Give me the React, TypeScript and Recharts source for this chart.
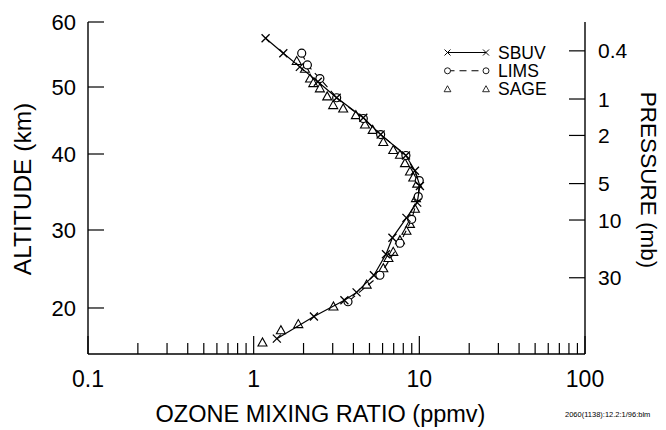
import React from "react";
import { ScatterChart, Scatter, XAxis, YAxis, Legend } from "recharts";

// ozone mixing ratio (ppmv) against altitude (km)
const SBUV_PPMV = [1.18, 1.51, 1.9, 2.44, 3.17, 4.59, 5.84, 8.3, 9.41, 10.08, 9.71, 8.36, 6.88, 6.29, 5.32, 4.18, 3.53, 2.31, 1.38];
const SBUV_KM = [57.5, 55.2, 53.1, 50.8, 48.4, 45.4, 42.9, 39.8, 37.8, 35.8, 33.6, 31.6, 29.0, 26.9, 24.2, 22.0, 21.0, 18.9, 16.0];

const LIMS_PPMV = [1.95, 2.11, 2.51, 3.17, 4.59, 5.84, 8.3, 9.99, 9.85, 8.99, 7.64, 5.78, 3.71];
const LIMS_KM = [55.2, 53.4, 51.3, 48.4, 45.3, 42.9, 39.8, 36.5, 34.4, 31.4, 28.3, 24.2, 20.8];

const SAGE_PPMV = [
  1.82, 2.04, 2.19, 2.29, 2.51, 2.78, 3.02, 3.47, 4.14, 4.7, 5.23, 6.06, 6.96, 7.64, 8.19, 8.78,
  9.19, 9.71, 9.54, 9.41, 8.78, 8.36, 7.64, 6.96, 6.51, 6.06, 4.81, 3.03, 1.86, 1.46, 1.13,
];
const SAGE_KM = [
  54.0, 52.8, 51.3, 50.6, 49.8, 48.6, 47.3, 46.8, 45.8, 44.4, 43.6, 41.8, 40.6, 39.9, 38.8, 37.7,
  36.9, 36.1, 34.2, 32.8, 30.8, 29.9, 28.7, 27.2, 26.4, 25.1, 23.0, 20.2, 17.9, 17.1, 15.5,
];

const X_MAJOR = [0.1, 1, 10, 100];
const X_TICKS = [
  0.1, 0.2, 0.3, 0.4, 0.5, 0.6, 0.7, 0.8, 0.9,
  1, 2, 3, 4, 5, 6, 7, 8, 9,
  10, 20, 30, 40, 50, 60, 70, 80, 90, 100,
];
const ALT_TICKS = [20, 30, 40, 50, 60];
const P_TICKS = [0.4, 1, 2, 5, 10, 30];

// altitude axis is not linear in the original (it follows log pressure),
// so the km scale is piecewise-linear between these knots
const ALT_KNOTS = [14, 20, 30, 40, 50, 60];
const ALT_STOPS = [0, 0.1386, 0.3735, 0.6024, 0.8042, 1];

const FONT = "'Liberation Sans', Arial, Helvetica, sans-serif";

const zip = (xs: number[], ys: number[]) => xs.map((v, i) => ({ ppmv: v, km: ys[i] }));
const sbuv = zip(SBUV_PPMV, SBUV_KM);
const lims = zip(LIMS_PPMV, LIMS_KM);
const sage = zip(SAGE_PPMV, SAGE_KM);

function altitudeScale(): any {
  let dom = [ALT_KNOTS[0], ALT_KNOTS[ALT_KNOTS.length - 1]];
  let rng = [1, 0];
  const frac = (v: number) => {
    const n = ALT_KNOTS.length;
    for (let i = 1; i < n; i++) {
      if (v <= ALT_KNOTS[i] || i === n - 1) {
        const t = (v - ALT_KNOTS[i - 1]) / (ALT_KNOTS[i] - ALT_KNOTS[i - 1]);
        return ALT_STOPS[i - 1] + t * (ALT_STOPS[i] - ALT_STOPS[i - 1]);
      }
    }
    return 1;
  };
  const unfrac = (f: number) => {
    const n = ALT_STOPS.length;
    for (let i = 1; i < n; i++) {
      if (f <= ALT_STOPS[i] || i === n - 1) {
        const t = (f - ALT_STOPS[i - 1]) / (ALT_STOPS[i] - ALT_STOPS[i - 1]);
        return ALT_KNOTS[i - 1] + t * (ALT_KNOTS[i] - ALT_KNOTS[i - 1]);
      }
    }
    return ALT_KNOTS[n - 1];
  };
  const s: any = (v: number) => rng[0] + frac(Number(v)) * (rng[1] - rng[0]);
  s.domain = (d?: number[]) => {
    if (d === undefined) return dom.slice();
    dom = d.slice();
    return s;
  };
  s.range = (r?: number[]) => {
    if (r === undefined) return rng.slice();
    rng = r.slice();
    return s;
  };
  s.invert = (px: number) => unfrac((px - rng[0]) / (rng[1] - rng[0]));
  s.ticks = () => ALT_TICKS.slice();
  s.tickFormat = () => (v: number) => String(v);
  s.nice = () => s;
  s.clamp = () => s;
  s.copy = () => altitudeScale().domain(dom).range(rng);
  return s;
}

const XMark = ({ cx, cy }: any) => (
  <path d={`M${cx - 4},${cy - 4}L${cx + 4},${cy + 4}M${cx - 4},${cy + 4}L${cx + 4},${cy - 4}`} stroke="#000" strokeWidth={1.3} fill="none" />
);
const Circle = ({ cx, cy }: any) => <circle cx={cx} cy={cy} r={4} fill="#fff" stroke="#000" strokeWidth={1.2} />;
const Tri = ({ cx, cy }: any) => (
  <path d={`M${cx},${cy - 4.5}L${cx - 4.5},${cy + 3.5}L${cx + 4.5},${cy + 3.5}Z`} fill="#fff" stroke="#000" strokeWidth={1.1} />
);

const bottomTick = ({ x, y, payload }: any) => {
  const major = X_MAJOR.includes(payload.value);
  return (
    <g>
      <line x1={x} y1={y} x2={x} y2={y - (major ? 18 : 11)} stroke="#000" strokeWidth={1.2} />
      {major && (
        <text x={x} y={y + 33} textAnchor="middle" fontSize={23} fontFamily={FONT} fill="#000">
          {payload.value}
        </text>
      )}
    </g>
  );
};

const topTick = ({ x, y, payload }: any) => {
  const major = X_MAJOR.includes(payload.value);
  return <line x1={x} y1={y} x2={x} y2={y + (major ? 18 : 11)} stroke="#000" strokeWidth={1.2} />;
};

const leftTick = ({ x, y, payload }: any) => (
  <g>
    <line x1={x} y1={y} x2={x + 16} y2={y} stroke="#000" strokeWidth={1.2} />
    <text x={x - 12} y={y} dy="0.36em" textAnchor="end" fontSize={22} fontFamily={FONT} fill="#000">
      {payload.value}
    </text>
  </g>
);

const rightTick = ({ x, y, payload }: any) => (
  <g>
    <line x1={x} y1={y} x2={x - 16} y2={y} stroke="#000" strokeWidth={1.2} />
    <text x={x + 13} y={y} dy="0.36em" textAnchor="start" fontSize={21} fontFamily={FONT} fill="#000">
      {payload.value}
    </text>
  </g>
);

const bottomTitle = ({ viewBox }: any) => {
  const { x, y, width } = viewBox;
  return (
    <g>
      <text x={x + width / 2 - 16} y={y + 68} textAnchor="middle" fontSize={23.5} fontFamily={FONT} fill="#000">
        OZONE MIXING RATIO (ppmv)
      </text>
      <text x={x + 477} y={y + 63} textAnchor="start" fontSize={7.5} fontFamily={FONT} fill="#000">
        2060(1138):12.2:1/96:blm
      </text>
    </g>
  );
};

const leftTitle = ({ viewBox }: any) => {
  const { x, y, height } = viewBox;
  const cx = x + 14.5;
  const cy = y + height / 2 + 1;
  return (
    <text x={cx} y={cy} dy="0.36em" transform={`rotate(-90 ${cx} ${cy})`} textAnchor="middle" fontSize={24.5} fontFamily={FONT} fill="#000">
      ALTITUDE (km)
    </text>
  );
};

const rightTitle = ({ viewBox }: any) => {
  const { x, y, height } = viewBox;
  const cx = x + 64;
  const cy = y + height / 2 - 8;
  return (
    <text x={cx} y={cy} dy="0.36em" transform={`rotate(90 ${cx} ${cy})`} textAnchor="middle" fontSize={22.5} fontFamily={FONT} fill="#000">
      PRESSURE (mb)
    </text>
  );
};

const LEGEND_ROWS = [
  { name: "SBUV", mark: XMark, dash: "none" },
  { name: "LIMS", mark: Circle, dash: "7 5" },
  { name: "SAGE", mark: Tri, dash: "" },
];

const renderLegend = () => (
  <svg width={130} height={62} style={{ display: "block" }}>
    {LEGEND_ROWS.map((r, i) => {
      const y = 10.5 + i * 18.3;
      const M = r.mark;
      return (
        <g key={r.name}>
          {r.dash !== "" && (
            <line x1={9.5} y1={y} x2={48} y2={y} stroke="#000" strokeWidth={1.1} strokeDasharray={r.dash === "none" ? undefined : r.dash} />
          )}
          <g transform={`translate(${9.5},${y}) scale(0.75) translate(${-9.5},${-y})`}>
            <M cx={9.5} cy={y} />
          </g>
          <g transform={`translate(${48},${y}) scale(0.75) translate(${-48},${-y})`}>
            <M cx={48} cy={y} />
          </g>
          <text x={60} y={y} dy="0.36em" fontSize={17.5} fontFamily={FONT} fill="#000">
            {r.name}
          </text>
        </g>
      );
    })}
  </svg>
);

export default function App() {
  const axisLine = { stroke: "#000", strokeWidth: 1.4 };
  return (
    <ScatterChart width={658} height={422} margin={{ top: 14, right: 0, bottom: 0, left: 0 }}>
      <XAxis
        xAxisId="x"
        type="number"
        dataKey="ppmv"
        scale="log"
        domain={[0.1, 100]}
        allowDataOverflow
        ticks={X_TICKS}
        interval={0}
        tickSize={0}
        tickMargin={0}
        tick={bottomTick}
        axisLine={axisLine}
        height={76}
        label={bottomTitle}
      />
      <XAxis
        xAxisId="xt"
        orientation="top"
        type="number"
        scale="log"
        domain={[0.1, 100]}
        allowDataOverflow
        ticks={X_TICKS}
        interval={0}
        tickSize={0}
        tickMargin={0}
        tick={topTick}
        axisLine={axisLine}
        height={0}
      />
      <YAxis
        yAxisId="alt"
        type="number"
        dataKey="km"
        scale={altitudeScale()}
        domain={[14, 60]}
        allowDataOverflow
        ticks={ALT_TICKS}
        interval={0}
        tickSize={0}
        tickMargin={0}
        tick={leftTick}
        axisLine={axisLine}
        width={80}
        label={leftTitle}
      />
      <YAxis
        yAxisId="p"
        orientation="right"
        type="number"
        scale="log"
        domain={[0.231, 128]}
        reversed
        allowDataOverflow
        ticks={P_TICKS}
        interval={0}
        tickSize={0}
        tickMargin={0}
        tick={rightTick}
        axisLine={axisLine}
        width={81}
        label={rightTitle}
      />
      <Legend
        layout="vertical"
        align="center"
        verticalAlign="middle"
        content={renderLegend}
        wrapperStyle={{ position: "absolute", left: 430, top: 34, width: 130, height: 62 }}
      />
      <Scatter name="SAGE" data={sage} xAxisId="x" yAxisId="alt" shape={Tri} isAnimationActive={false} />
      <Scatter
        name="LIMS"
        data={lims}
        xAxisId="x"
        yAxisId="alt"
        shape={Circle}
        line={{ stroke: "#000", strokeWidth: 1.1, strokeDasharray: "7 5" }}
        lineType="joint"
        isAnimationActive={false}
      />
      <Scatter
        name="SBUV"
        data={sbuv}
        xAxisId="x"
        yAxisId="alt"
        shape={XMark}
        line={{ stroke: "#000", strokeWidth: 1.2 }}
        lineType="joint"
        isAnimationActive={false}
      />
    </ScatterChart>
  );
}
